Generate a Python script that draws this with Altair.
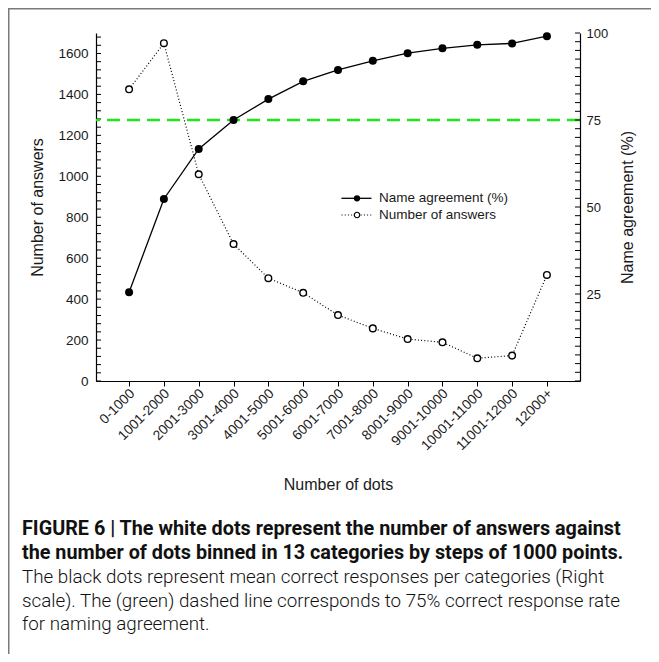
import altair as alt
import pandas as pd

# ---------------- data ----------------
categories = ["0-1000", "1001-2000", "2001-3000", "3001-4000", "4001-5000",
              "5001-6000", "6001-7000", "7001-8000", "8001-9000", "9001-10000",
              "10001-11000", "11001-12000", "12000+"]
answers = [1425, 1650, 1010, 669, 502, 431, 322, 257, 205, 189, 111, 124, 518]
agreement = [25.5, 52.3, 66.7, 75.0, 81.0, 86.1, 89.4, 92.0, 94.2, 95.6, 96.6, 97.0, 99.1]
threshold = [75]

answer_labels = [0, 200, 400, 600, 800, 1000, 1200, 1400, 1600]
answer_ticks = list(range(0, 1700, 40))
agreement_labels = [25, 50, 75, 100]
agreement_ticks = [i * 2.5 for i in range(41)]

legend_labels = ["Name agreement (%)", "Number of answers"]
caption_bold = ["FIGURE 6 | The white dots represent the number of answers against",
                "the number of dots binned in 13 categories by steps of 1000 points."]
caption_normal = ["The black dots represent mean correct responses per categories (Right",
                  "scale). The (green) dashed line corresponds to 75% correct response rate",
                  "for naming agreement."]

W, H = 484, 348
FONT = "Liberation Sans"
INK = "#1a1a1a"

left_df = pd.DataFrame({"bin": categories, "answers": answers})
right_df = pd.DataFrame({"bin": categories, "agreement": agreement})

x_enc = alt.X("bin:N", sort=categories,
              scale=alt.Scale(type="point", padding=0.95),
              axis=alt.Axis(title="Number of dots", labelAngle=315, labelAlign="right",
                            labelBaseline="middle", labelPadding=5, labelOffset=3,
                            tickSize=5, tickColor="black", labelFontSize=13.8,
                            titleFontSize=16, titlePadding=24))

left_axis = alt.Axis(orient="left", values=answer_labels, format="d", ticks=False,
                     labelPadding=8, labelFontSize=13.5, title="Number of answers",
                     titleFontSize=16, titlePadding=12)
right_axis = alt.Axis(orient="right", values=agreement_labels, format="d", ticks=False,
                      labelPadding=6, labelFontSize=13, title="Name agreement (%)",
                      titleFontSize=16, titlePadding=12, titleAngle=270,
                      titleBaseline="top")

y_left_scale = alt.Scale(domain=[0, 1700], nice=False)
y_right_scale = alt.Scale(domain=[0, 100], nice=False)


def yl():
    return alt.Y("answers:Q", scale=y_left_scale, axis=left_axis)


def yr():
    return alt.Y("agreement:Q", scale=y_right_scale, axis=right_axis)


left_ticks = alt.Chart(pd.DataFrame({"answers": answer_ticks})).mark_rule(
    color="black", strokeWidth=1).encode(y=yl(), x=alt.value(0), x2=alt.value(5))
left_line = alt.Chart(left_df).mark_line(color="black", strokeDash=[1, 2.2],
                                         strokeWidth=1.2).encode(x=x_enc, y=yl())
left_pts = alt.Chart(left_df).mark_point(shape="circle", filled=True, fill="white",
                                         stroke="black", strokeWidth=1.4, size=44,
                                         opacity=1).encode(x=x_enc, y=yl())
left = alt.layer(left_ticks, left_line, left_pts)

green = alt.Chart(pd.DataFrame({"agreement": threshold})).mark_rule(
    color="#1ee61e", strokeWidth=2.5, strokeDash=[13, 7]).encode(y=yr())
right_ticks = alt.Chart(pd.DataFrame({"agreement": agreement_ticks})).mark_rule(
    color="black", strokeWidth=1).encode(y=yr(), x=alt.value(W - 5), x2=alt.value(W))
right_line = alt.Chart(right_df).mark_line(color="black", strokeWidth=1.3).encode(
    x=x_enc, y=yr())
right_pts = alt.Chart(right_df).mark_circle(color="black", size=64, opacity=1).encode(
    x=x_enc, y=yr())
right = alt.layer(green, right_ticks, right_line, right_pts)

# ---------------- legend (inside plot) ----------------
deco = []
leg_rows = [(165.3, False), (182.0, True)]
for label, (ly, dotted) in zip(legend_labels, leg_rows):
    d = pd.DataFrame({"label": [label]})
    if dotted:
        deco.append(alt.Chart(d).mark_rule(color="black", strokeWidth=1.1, strokeDash=[1, 2.2])
                    .encode(x=alt.value(245.5), x2=alt.value(275.5), y=alt.value(ly)))
        deco.append(alt.Chart(d).mark_point(shape="circle", filled=True, fill="white",
                                            stroke="black", strokeWidth=1.2, size=30, opacity=1)
                    .encode(x=alt.value(261), y=alt.value(ly)))
    else:
        deco.append(alt.Chart(d).mark_rule(color="black", strokeWidth=1.3)
                    .encode(x=alt.value(245.5), x2=alt.value(275.5), y=alt.value(ly)))
        deco.append(alt.Chart(d).mark_circle(color="black", size=40, opacity=1)
                    .encode(x=alt.value(261), y=alt.value(ly)))
    deco.append(alt.Chart(d).mark_text(align="left", baseline="middle", font=FONT,
                                       fontSize=13.5, color=INK)
                .encode(x=alt.value(283), y=alt.value(ly), text="label:N"))

# ---------------- caption ----------------
cap_y = [502, 525.5, 549.5, 573.5, 597]
cap_lines = [(t, True) for t in caption_bold] + [(t, False) for t in caption_normal]
for (t, bold), cy in zip(cap_lines, cap_y):
    d = pd.DataFrame({"line": [t]})
    deco.append(alt.Chart(d).mark_text(align="left", baseline="alphabetic", font="Roboto",
                                       fontSize=19.8 if bold else 18.8,
                                       fontWeight=700 if bold else 300,
                                       color="#111111")
                .encode(x=alt.value(-74), y=alt.value(cy), text="line:N"))

# ---------------- frame ----------------
fd = pd.DataFrame({"k": [0]})
deco.append(alt.Chart(fd).mark_rule(color="#7a7a7a", strokeWidth=1.5)
            .encode(x=alt.value(-88), x2=alt.value(555), y=alt.value(-24.25)))
deco.append(alt.Chart(fd).mark_rule(color="#7a7a7a", strokeWidth=1.5)
            .encode(x=alt.value(-87.25), y=alt.value(-25), y2=alt.value(621)))

chart = alt.layer(left, right, *deco).resolve_scale(y="independent").properties(
    width=W, height=H,
    padding={"left": 88, "top": 25, "right": 71, "bottom": 273},
    autosize=alt.AutoSizeParams(type="none"),
    background="white",
).configure_view(stroke=None).configure_axis(
    labelFont=FONT, titleFont=FONT, labelColor=INK, titleColor=INK,
    domainColor="black", domainWidth=1.2, grid=False, titleFontWeight="normal"
)

chart.save("out.html", embed_options={"renderer": "svg", "actions": False})
